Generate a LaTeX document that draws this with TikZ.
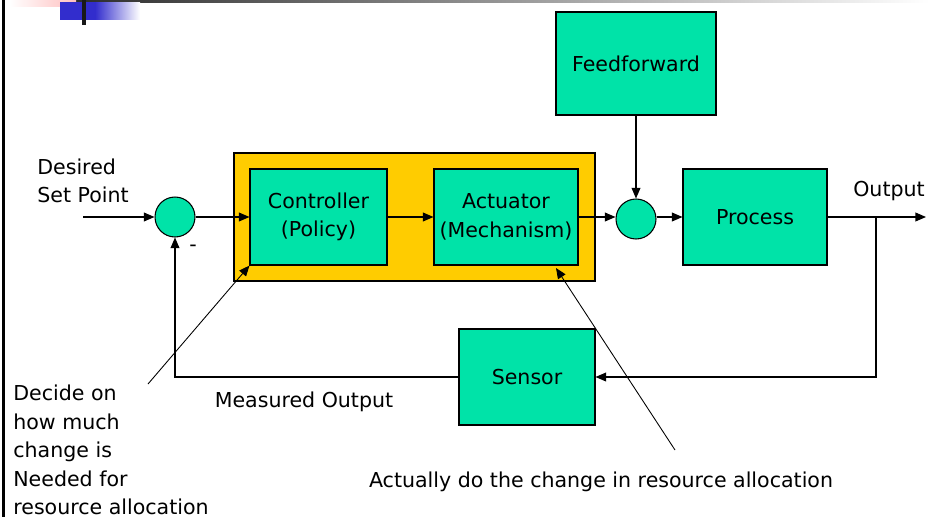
\documentclass[tikz,border=0pt]{standalone}
\usepackage{fontspec}
\setmainfont{DejaVu Sans}
\usepackage{tikz}
\usetikzlibrary{arrows.meta}

\definecolor{boxgreen}{RGB}{0,227,168}
\definecolor{policyyellow}{RGB}{255,204,0}
\definecolor{slideblue}{RGB}{50,45,205}

\tikzset{
    arr/.style={line width=0.6pt, -{Triangle[length=6pt,width=5pt]}},
    block/.style={draw, line width=0.6pt, fill=boxgreen, align=center, inner sep=0pt},
    sum/.style={draw, line width=0.6pt, fill=boxgreen, circle, minimum size=0.8cm, inner sep=0pt},
    lbl/.style={inner sep=0pt}
}

\begin{document}
\begin{tikzpicture}[x=0.02cm, y=-0.02cm, font=\fontsize{11.7}{16.2}\selectfont]
    \useasboundingbox (0,0) rectangle (929,517);

    % slide template bits
    \shade[left color=black!85, right color=white] (50,0) rectangle (929,2.5);
    \fill[black] (2,0) rectangle (5,517);
    \shade[left color=white, right color=red!25] (10,0) rectangle (76,7);
    \fill[slideblue] (60,2.5) rectangle (95,20);
    \shade[left color=slideblue, right color=white] (95,2.5) rectangle (140,20);
    \fill[black!90] (82,0) rectangle (86,25);

    % policy / mechanism frame
    \draw[fill=policyyellow, line width=0.6pt] (234,153) rectangle (595,281);

    % blocks
    \node[block, minimum width=2.74cm, minimum height=1.92cm] (ctrl) at (318.5,217) {Controller\\(Policy)};
    \node[block, minimum width=2.88cm, minimum height=1.92cm] (act) at (506,217) {Actuator\\(Mechanism)};
    \node[block, minimum width=2.88cm, minimum height=1.92cm] (proc) at (755,217) {Process};
    \node[block, minimum width=3.2cm, minimum height=2.06cm] (ff) at (636,63.5) {Feedforward};
    \node[block, minimum width=2.72cm, minimum height=1.92cm] (sensor) at (527,377) {Sensor};

    \node[sum] (sum1) at (175,217) {};
    \node[sum] (sum2) at (636,219) {};

    % free ends
    \coordinate (in) at (83,217);
    \coordinate (out) at (926,217);
    \coordinate (tap) at (876,217);
    \coordinate (note1) at (148,384);
    \coordinate (note2) at (675,450);
    \coordinate (tip2) at (556,268);

    % signal path
    \draw[arr] (in) -- (sum1);
    \draw[arr] (sum1) -- (ctrl);
    \draw[arr] (ctrl) -- (act);
    \draw[arr] (act.east) -- (sum2.west |- act.east);
    \draw[arr] (sum2.east |- proc.west) -- (proc);
    \draw[arr] (proc) -- (out);
    \draw[arr] (ff) -- (sum2);

    % feedback
    \draw[arr] (tap) |- (sensor);
    \draw[arr] (sensor) -| (sum1);

    % annotations
    \draw[arr, line width=0.5pt] (note1) -- (ctrl.south west);
    \draw[arr, line width=0.5pt] (note2) -- (tip2);

    % labels
    \node[lbl, anchor=west, align=left] (setpoint) at (37,181) {Desired\\Set Point};
    \node[lbl] (outlbl) at (889,191) {Output};
    \node[lbl] (minus) at (193,248) {-};
    \node[lbl] (measured) at (304,402) {Measured Output};
    \node[lbl, anchor=west, align=left] (decide) at (13,450) {Decide on\\how much\\change is\\Needed for\\resource allocation};
    \node[lbl] (actually) at (601,482) {Actually do the change in resource allocation};
\end{tikzpicture}
\end{document}
